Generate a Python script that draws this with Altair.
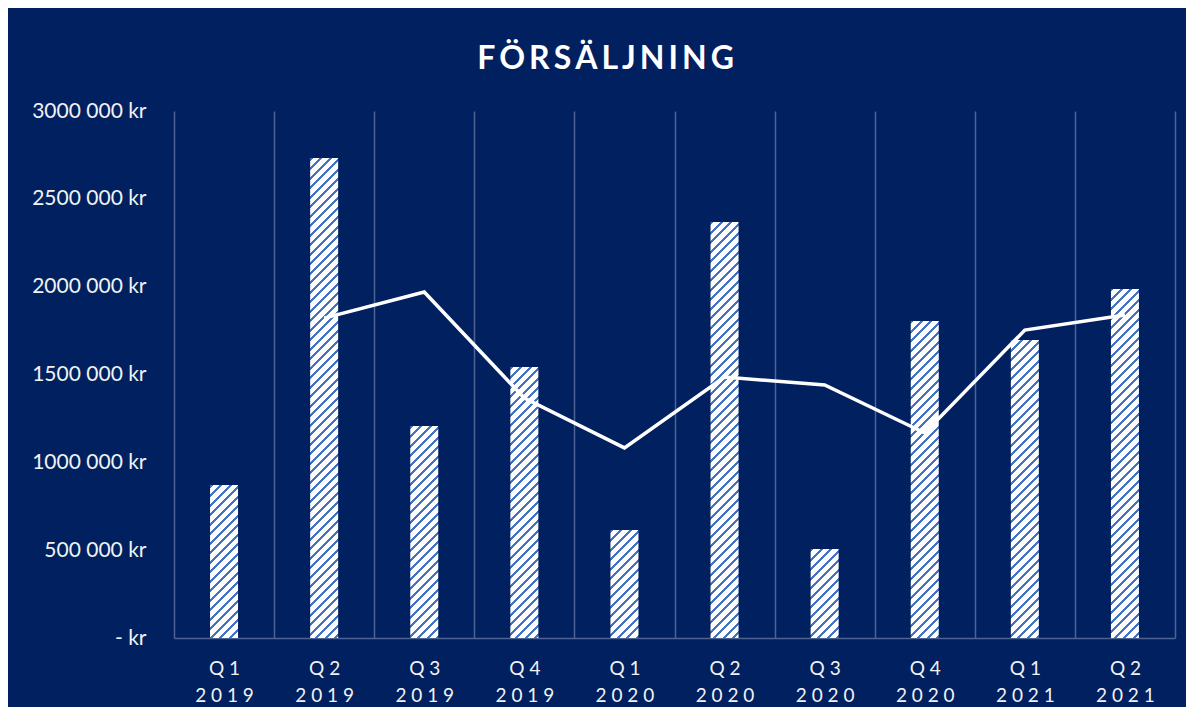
import altair as alt
import pandas as pd

# ---- data ----
quarters = ["Q1", "Q2", "Q3", "Q4", "Q1", "Q2", "Q3", "Q4", "Q1", "Q2"]
years = ["2019", "2019", "2019", "2019", "2020", "2020", "2020", "2020", "2021", "2021"]
sales = [871000, 2732000, 1207000, 1543000, 615000, 2368000, 507000, 1805000, 1696000, 1987000]
trend = [None, 1821000, 1970000, 1366000, 1082000, 1486000, 1440000, 1167000, 1753000, 1839000]
y_ticks = [0, 500000, 1000000, 1500000, 2000000, 2500000, 3000000]
title_text = "FÖRSÄLJNING"

# ---- styling ----
BG = "#002060"
GRID = "#4D6394"
TXT = "#F2F2F2"
BLUE = "#4472C4"
WHITE = "#FFFFFF"
FONT = "Lato"
W, H = 1001, 527
YMAX = 3000000
BAR_W = 28
PERIOD = 9.5
BLUE_PX = 3.0

labels = [" ".join(q) + "|" + " ".join(y) for q, y in zip(quarters, years)]
df = pd.DataFrame({"label": labels, "sales": sales, "trend": trend, "i": list(range(len(labels)))})


def hatch(value):
    w = BAR_W
    h = max(value / YMAX * H, 1.0)
    L = w + h
    lam = w * L / (w * w + h * h)
    stops = []
    s = 0.0
    while s < L:
        a = s / L
        b = min((s + BLUE_PX) / L, 1.0)
        c = min((s + PERIOD) / L, 1.0)
        stops += [
            {"offset": a, "color": BLUE},
            {"offset": b, "color": BLUE},
            {"offset": b, "color": WHITE},
            {"offset": c, "color": WHITE},
        ]
        s += PERIOD
    return {"gradient": "linear", "x1": 0, "y1": 0, "x2": lam, "y2": lam * h / w, "stops": stops}


x_axis = alt.Axis(
    title=None, labelAngle=0, tickBand="extent", grid=True, gridColor=GRID, gridWidth=1.5,
    ticks=False, domain=True, domainColor=GRID, domainWidth=1.5,
    labelExpr="split(datum.label, '|')", labelFont=FONT, labelFontSize=19, labelColor=TXT,
    labelPadding=21, labelLineHeight=27, labelBaseline="top",
)
X = alt.X("label:N", sort=None, scale=alt.Scale(domain=labels, paddingInner=0, paddingOuter=0), axis=x_axis)

y_axis = alt.Axis(
    title=None, values=y_ticks, grid=False, domain=False, ticks=False,
    labelExpr="datum.value == 0 ? '- kr' : format(floor(datum.value / 1000), 'd') + ' ' + format(datum.value % 1000, '03d') + ' kr'",
    labelFont=FONT, labelFontSize=21, labelColor=TXT, labelPadding=28,
)


def Y(field):
    return alt.Y(f"{field}:Q", scale=alt.Scale(domain=[0, YMAX], nice=False), axis=y_axis)


base = alt.Chart(df)
layers = []
for i, v in enumerate(sales):
    layers.append(
        base.transform_filter(alt.datum.i == i)
        .mark_bar(size=BAR_W, fill=hatch(v))
        .encode(x=X, y=Y("sales"))
    )
line = base.transform_filter("isValid(datum.trend)").mark_line(color=WHITE, strokeWidth=3.5).encode(x=X, y=Y("trend"))
layers.append(line)

spaced_title = "\u2009".join(title_text)

chart = alt.layer(*layers).properties(
    width=W,
    height=H,
    autosize="none",
    padding={"left": 166, "top": 103, "right": 11, "bottom": 69},
    background=BG,
    title=alt.TitleParams(
        spaced_title, font=FONT, fontSize=32, fontWeight="bold", color=WHITE,
        anchor="middle", frame="group", dx=-69, dy=3, baseline="alphabetic", offset=2,
    ),
).configure_view(stroke=None)

chart.save("out.html", embed_options={"renderer": "svg", "actions": False})
